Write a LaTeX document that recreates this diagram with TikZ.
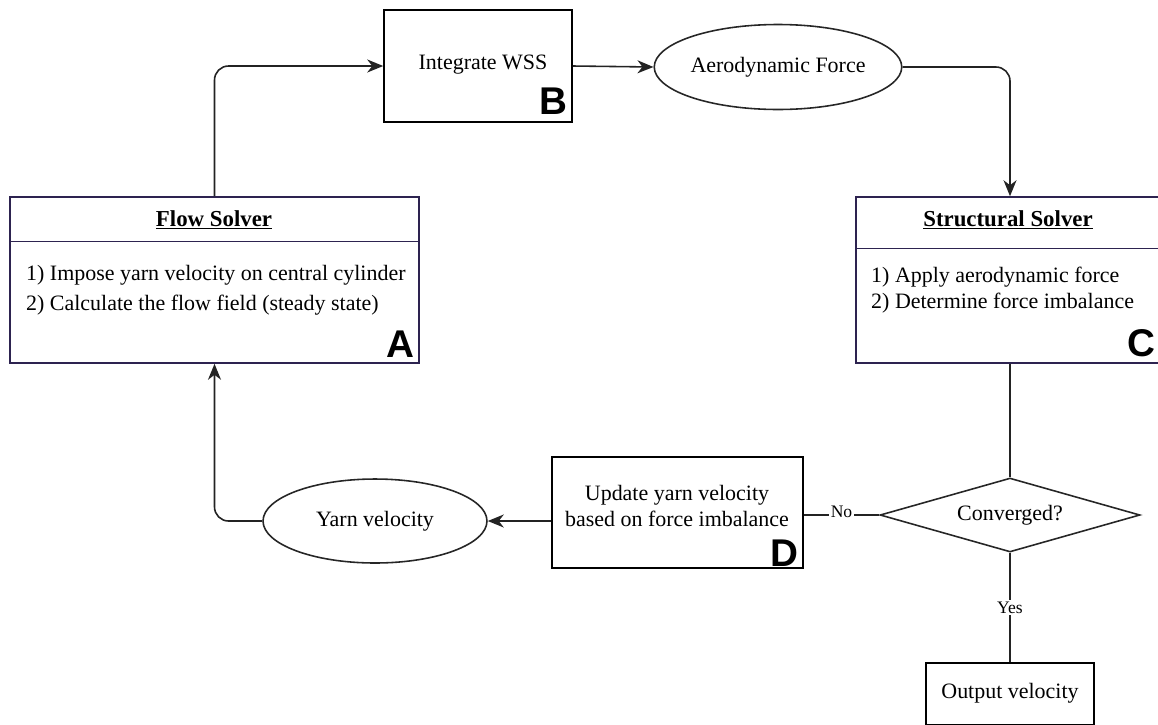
\documentclass[tikz,border=0pt]{standalone}
\usepackage{fontspec}
\setmainfont{Liberation Serif}
\newfontfamily\tagfont{Liberation Sans}
\usetikzlibrary{shapes.geometric,arrows.meta}

\definecolor{solverline}{RGB}{45,35,80}
\definecolor{wireline}{RGB}{35,35,35}

\begin{document}
\begin{tikzpicture}[x=0.02cm, y=-0.02cm,
    every node/.style={font=\fontsize{12.5}{15}\selectfont},
    box/.style={draw=black, line width=0.9pt, inner sep=0pt},
    solverbox/.style={draw=solverline, line width=0.9pt, inner sep=0pt},
    blob/.style={ellipse, draw=black!85, line width=0.9pt, inner sep=0pt},
    choice/.style={diamond, shape aspect=3.5, draw=black!85, line width=0.9pt, inner sep=0pt},
    tag/.style={font=\tagfont\bfseries\fontsize{22}{22}\selectfont, inner sep=0pt, anchor=south east},
    wire/.style={draw=wireline, line width=0.9pt},
    arr/.style={wire, -{Stealth[length=3.2mm,width=2.6mm,inset=1mm]}},
    lbl/.style={fill=white, inner sep=1pt, font=\fontsize{10}{12}\selectfont}]
    \useasboundingbox (0,0) rectangle (1158,724);

    % flow solver
    \node[solverbox, minimum width=8.18cm, minimum height=3.32cm] (A) at (214.5,280) {};
    \draw[solverline, line width=0.6pt] ([yshift=-0.9cm]A.north west) -- ([yshift=-0.9cm]A.north east);
    \node[font=\bfseries\fontsize{13}{15}\selectfont] (Atitle) at (214,220) {\underline{Flow Solver}};
    \node[anchor=west, align=left, font=\fontsize{12.5}{17}\selectfont] (Abody) at (20,290) {1) Impose yarn velocity on central cylinder\\2) Calculate the flow field (steady state)};
    \node[tag] (Atag) at ([xshift=-0.1cm,yshift=0.12cm]A.south east) {A};

    % integrate WSS
    \node[box, minimum width=3.76cm, minimum height=2.24cm] (B) at (478,66) {};
    \node (Btext) at (483,65) {Integrate WSS};
    \node[tag] (Btag) at ([xshift=-0.1cm,yshift=0.16cm]B.south east) {B};

    \node[blob, minimum width=4.2cm, minimum height=1.7cm] (Aero) at (778,67) {Aerodynamic Force};

    % structural solver
    \node[solverbox, minimum width=6.16cm, minimum height=3.32cm] (C) at (1010,280) {};
    \draw[solverline, line width=0.6pt] ([yshift=-1.04cm]C.north west) -- ([yshift=-1.04cm]C.north east);
    \node[font=\bfseries\fontsize{13}{15}\selectfont] (Ctitle) at (1008,220) {\underline{Structural Solver}};
    \node[anchor=west, align=left, font=\fontsize{12.5}{14.5}\selectfont] (Cbody) at (865,290) {1) Apply aerodynamic force\\2) Determine force imbalance};
    \node[tag] (Ctag) at (1156,357) {C};

    \node[choice, minimum width=5.2cm, minimum height=1.48cm] (Conv) at (1010,515) {Converged?};

    % update step
    \node[box, minimum width=5.02cm, minimum height=2.22cm] (D) at (677.5,512.5) {};
    \node[align=center, font=\fontsize{12.5}{14.5}\selectfont] (Dtext) at (677,506) {Update yarn velocity\\based on force imbalance};
    \node[tag] (Dtag) at ([xshift=-0.1cm,yshift=0.03cm]D.south east) {D};

    \node[blob, minimum width=4.48cm, minimum height=1.68cm] (Yarn) at (375,521) {Yarn velocity};

    \node[box, minimum width=3.36cm, minimum height=1.24cm, anchor=north] (Out) at (1010,662) {};
    \node (Outtext) at (1010,693) {Output velocity};

    % connectors
    \draw[arr, rounded corners=8pt] (A.north) |- (B.west);
    \draw[arr] (B.east) -- (Aero.west);
    \draw[arr, rounded corners=8pt] (Aero.east) -| (C.north);
    \draw[wire] (C.south) -- (Conv.north);
    \draw[wire] (Conv.west) -- (Conv.west -| D.east) node[lbl, midway, yshift=2pt] {No};
    \draw[arr] (D.west |- Yarn.east) -- (Yarn.east);
    \draw[arr, rounded corners=8pt] (Yarn.west) -| (A.south);
    \draw[wire] (Conv.south) -- (Out.north) node[lbl, midway] {Yes};
\end{tikzpicture}
\end{document}
